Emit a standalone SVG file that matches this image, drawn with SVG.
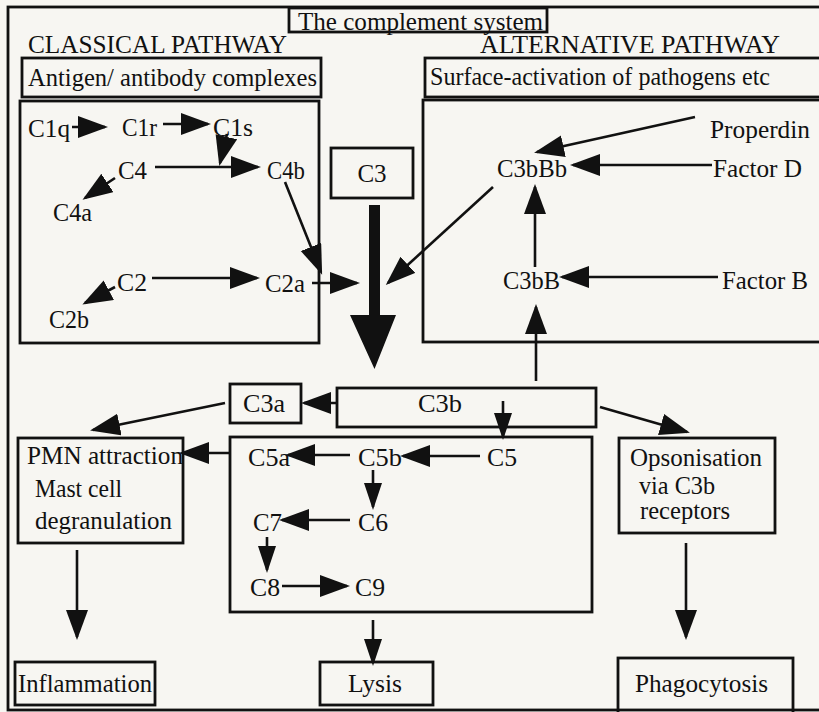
<svg xmlns="http://www.w3.org/2000/svg" width="819" height="712" viewBox="0 0 819 712">
<defs>
<style>
.bx{fill:none;stroke:#111;stroke-width:2.8}
.t{font-family:"Liberation Serif","Times New Roman",serif;font-size:25px;fill:#111}
.ln{stroke:#111;stroke-width:2.6;fill:none;marker-end:url(#ah)}
.ls{stroke:#111;stroke-width:2.6;fill:none;marker-end:url(#as)}
</style>
<marker id="ah" markerUnits="userSpaceOnUse" markerWidth="32" markerHeight="24" refX="27" refY="11" orient="auto">
<path d="M0,0 L30,11 L0,22 Z" fill="#111"/>
</marker>
<marker id="as" markerUnits="userSpaceOnUse" markerWidth="30" markerHeight="20" refX="24" refY="9" orient="auto">
<path d="M0,0 L27,9 L0,18 Z" fill="#111"/>
</marker>
</defs>
<rect x="0" y="0" width="819" height="712" fill="#f7f6f2"/>
<g id="frame">
<rect class="bx" x="8" y="7" width="830" height="703"/>
</g>
<g id="title">
<rect class="bx" x="289" y="8" width="258" height="24" fill="#f7f6f2"/>
<text class="t" x="298" y="30" textLength="245" lengthAdjust="spacingAndGlyphs">The complement system</text>
</g>
<g id="classical-heading">
<text class="t" x="28" y="53" textLength="259" lengthAdjust="spacingAndGlyphs">CLASSICAL PATHWAY</text>
</g>
<g id="alternative-heading">
<text class="t" x="480" y="53" textLength="300" lengthAdjust="spacingAndGlyphs">ALTERNATIVE PATHWAY</text>
</g>
<g id="antigen">
<rect class="bx" x="22" y="58" width="299" height="39"/>
<text class="t" x="28" y="86" textLength="289" lengthAdjust="spacingAndGlyphs">Antigen/ antibody complexes</text>
</g>
<g id="surface">
<rect class="bx" x="425" y="58" width="410" height="39"/>
<text class="t" x="430" y="85" textLength="340" lengthAdjust="spacingAndGlyphs">Surface-activation of pathogens etc</text>
</g>
<g id="classical">
<rect class="bx" x="20" y="101" width="299" height="242"/>
<text class="t" x="28" y="137" textLength="42" lengthAdjust="spacingAndGlyphs">C1q</text>
<text class="t" x="122" y="136" textLength="35" lengthAdjust="spacingAndGlyphs">C1r</text>
<text class="t" x="213" y="136" textLength="40" lengthAdjust="spacingAndGlyphs">C1s</text>
<text class="t" x="118" y="179" textLength="29" lengthAdjust="spacingAndGlyphs">C4</text>
<text class="t" x="267" y="179" textLength="38" lengthAdjust="spacingAndGlyphs">C4b</text>
<text class="t" x="53" y="221" textLength="39" lengthAdjust="spacingAndGlyphs">C4a</text>
<text class="t" x="117" y="291" textLength="30" lengthAdjust="spacingAndGlyphs">C2</text>
<text class="t" x="265" y="292" textLength="40" lengthAdjust="spacingAndGlyphs">C2a</text>
<text class="t" x="49" y="328" textLength="40" lengthAdjust="spacingAndGlyphs">C2b</text>
</g>
<g id="alternative">
<rect class="bx" x="423" y="100" width="410" height="242"/>
<text class="t" x="710" y="138" textLength="100" lengthAdjust="spacingAndGlyphs">Properdin</text>
<text class="t" x="497" y="177" textLength="70" lengthAdjust="spacingAndGlyphs">C3bBb</text>
<text class="t" x="713" y="177" textLength="89" lengthAdjust="spacingAndGlyphs">Factor D</text>
<text class="t" x="503" y="289" textLength="57" lengthAdjust="spacingAndGlyphs">C3bB</text>
<text class="t" x="722" y="289" textLength="86" lengthAdjust="spacingAndGlyphs">Factor B</text>
</g>
<g id="c3">
<rect class="bx" x="331" y="148" width="82" height="50"/>
<text class="t" x="372" y="182" text-anchor="middle">C3</text>
</g>
<g id="c3a">
<rect class="bx" x="230" y="384" width="71" height="39"/>
<text class="t" x="243" y="412" textLength="42" lengthAdjust="spacingAndGlyphs">C3a</text>
</g>
<g id="c3b">
<rect class="bx" x="337" y="388" width="259" height="39"/>
<text class="t" x="418" y="412" textLength="44" lengthAdjust="spacingAndGlyphs">C3b</text>
</g>
<g id="terminal">
<rect class="bx" x="230" y="437" width="362" height="175"/>
<text class="t" x="248" y="466" textLength="42" lengthAdjust="spacingAndGlyphs">C5a</text>
<text class="t" x="358" y="466" textLength="44" lengthAdjust="spacingAndGlyphs">C5b</text>
<text class="t" x="487" y="466" textLength="30" lengthAdjust="spacingAndGlyphs">C5</text>
<text class="t" x="358" y="531" textLength="30" lengthAdjust="spacingAndGlyphs">C6</text>
<text class="t" x="253" y="531" textLength="29" lengthAdjust="spacingAndGlyphs">C7</text>
<text class="t" x="250" y="596" textLength="30" lengthAdjust="spacingAndGlyphs">C8</text>
<text class="t" x="355" y="596" textLength="30" lengthAdjust="spacingAndGlyphs">C9</text>
</g>
<g id="pmn">
<rect class="bx" x="18" y="438" width="165" height="105"/>
<text class="t" x="27" y="464" textLength="156" lengthAdjust="spacingAndGlyphs">PMN attraction</text>
<text class="t" x="35" y="497" textLength="87" lengthAdjust="spacingAndGlyphs">Mast cell</text>
<text class="t" x="35" y="529" textLength="137" lengthAdjust="spacingAndGlyphs">degranulation</text>
</g>
<g id="opsonisation">
<rect class="bx" x="619" y="438" width="156" height="95"/>
<text class="t" x="630" y="466" textLength="132" lengthAdjust="spacingAndGlyphs">Opsonisation</text>
<text class="t" x="639" y="494" textLength="76" lengthAdjust="spacingAndGlyphs">via C3b</text>
<text class="t" x="640" y="519" textLength="90" lengthAdjust="spacingAndGlyphs">receptors</text>
</g>
<g id="inflammation">
<rect class="bx" x="15" y="662" width="140" height="43"/>
<text class="t" x="18" y="692" textLength="134" lengthAdjust="spacingAndGlyphs">Inflammation</text>
</g>
<g id="lysis">
<rect class="bx" x="320" y="662" width="113" height="43"/>
<text class="t" x="348" y="692" textLength="54" lengthAdjust="spacingAndGlyphs">Lysis</text>
</g>
<g id="phagocytosis">
<rect class="bx" x="618" y="658" width="175" height="60"/>
<text class="t" x="635" y="692" textLength="133" lengthAdjust="spacingAndGlyphs">Phagocytosis</text>
</g>
<g id="connectors">
<line class="ln" x1="72" y1="127" x2="105" y2="127"/>
<line class="ln" x1="163" y1="124" x2="208" y2="124"/>
<line class="ln" x1="227" y1="134" x2="220" y2="163"/>
<line class="ln" x1="155" y1="167" x2="258" y2="167"/>
<line class="ln" x1="115" y1="178" x2="85" y2="198"/>
<line class="ln" x1="285" y1="182" x2="321" y2="272"/>
<line class="ln" x1="152" y1="278" x2="257" y2="278"/>
<line class="ln" x1="115" y1="287" x2="85" y2="303"/>
<line class="ln" x1="312" y1="283" x2="357" y2="283"/>
<line class="ln" x1="493" y1="187" x2="388" y2="283"/>
<line class="ln" x1="695" y1="117" x2="537" y2="152"/>
<line class="ln" x1="712" y1="165" x2="573" y2="165"/>
<line class="ln" x1="718" y1="277" x2="562" y2="277"/>
<line class="ln" x1="535" y1="267" x2="535" y2="187"/>
<line class="ln" x1="536" y1="381" x2="536" y2="307"/>
<path d="M369,205 H380 V315 H396 L374.5,369 L350,315 H369 Z" fill="#111"/>
<line class="ln" x1="338" y1="403" x2="304" y2="403"/>
<line class="ln" x1="225" y1="403" x2="93" y2="430"/>
<line class="ls" x1="503" y1="401" x2="503" y2="437"/>
<line class="ln" x1="600" y1="407" x2="687" y2="432"/>
<line class="ln" x1="480" y1="456" x2="403" y2="456"/>
<line class="ln" x1="350" y1="455" x2="288" y2="455"/>
<line class="ln" x1="230" y1="453" x2="182" y2="453"/>
<line class="ls" x1="373" y1="470" x2="373" y2="507"/>
<line class="ln" x1="350" y1="520" x2="282" y2="520"/>
<line class="ls" x1="267" y1="537" x2="267" y2="570"/>
<line class="ln" x1="282" y1="586" x2="347" y2="586"/>
<line class="ls" x1="373" y1="620" x2="373" y2="663"/>
<line class="ln" x1="77" y1="550" x2="77" y2="637"/>
<line class="ln" x1="686" y1="543" x2="686" y2="637"/>
</g>
</svg>
